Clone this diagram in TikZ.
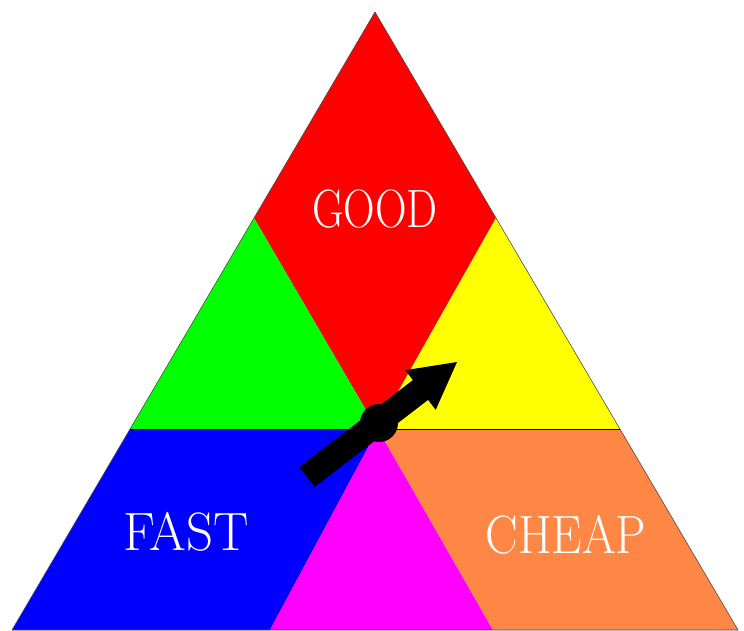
\documentclass[tikz,border=0pt]{standalone}
\usepackage{graphicx}
\definecolor{cred}{RGB}{255,0,0}
\definecolor{cgreen}{RGB}{0,255,0}
\definecolor{cblue}{RGB}{0,0,255}
\definecolor{cyellow}{RGB}{255,255,0}
\definecolor{cmag}{RGB}{255,0,255}
\definecolor{corange}{RGB}{255,135,70}
\tikzset{
  region/.style={draw=none},
  lbl/.style={text=white, anchor=base, inner sep=0pt, font=\fontsize{54}{54}\selectfont}
}
\begin{document}
\begin{tikzpicture}[x=1pt,y=-1pt]
\useasboundingbox (0,0) rectangle (744,631);
\coordinate (A) at (375,12);
\coordinate (BL) at (12,630);
\coordinate (BR) at (738,630);
\coordinate (L1) at (254,218);
\coordinate (R1) at (496,218);
\coordinate (L2) at (130,429);
\coordinate (R2) at (620,429);
\coordinate (C) at (377,429);
\coordinate (M) at (378,429);
\coordinate (M1) at (270,630);
\coordinate (M2) at (493,630);
% regions
\fill[cred]    (A) -- (L1) -- (C) -- (R1) -- cycle;
\fill[cgreen]  (L1) -- (L2) -- (C) -- cycle;
\fill[cyellow] (R1) -- (R2) -- (C) -- cycle;
\fill[cblue]   (L2) -- (BL) -- (M1) -- (M) -- cycle;
\fill[cmag]    (M) -- (M1) -- (M2) -- cycle;
\fill[corange] (M) -- (M2) -- (BR) -- (R2) -- cycle;
% outline and divider
\draw[black!70, line width=0.6pt, line join=round] (A) -- (BL) -- (BR) -- cycle;
\draw[black, line width=1pt] (L2) -- (R2);
% labels
\node[lbl] (good) at (375,227) {\scalebox{0.81}[1]{GOOD}};
\node[lbl] (fast) at (186,550) {\scalebox{0.98}[1]{FAST}};
\node[lbl] (cheap) at (566,553) {\scalebox{0.90}[1]{CHEAP}};
% arrow
\coordinate (t1) at (314.6,486.9);
\coordinate (t2) at (299.4,467.1);
\coordinate (h1) at (412.9,380.1);
\coordinate (h2) at (405.3,370.2);
\coordinate (tip) at (457,362);
\coordinate (h3) at (435.7,409.8);
\coordinate (h4) at (428.1,399.9);
\fill[black] (t1) -- (t2) -- (h1) -- (h2) -- (tip) -- (h3) -- (h4) -- cycle;
\fill[black] (379,423) circle (19);
\end{tikzpicture}
\end{document}
